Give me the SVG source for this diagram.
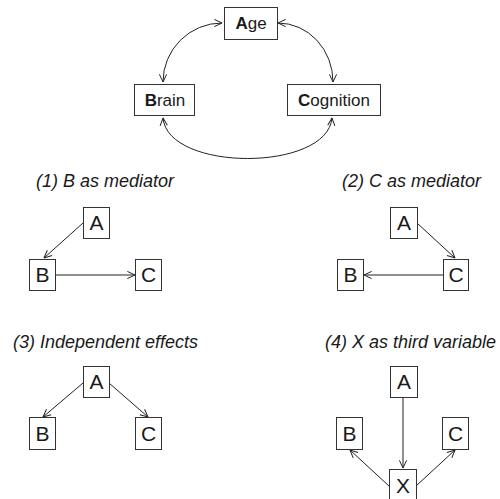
<svg xmlns="http://www.w3.org/2000/svg" width="500" height="499" viewBox="0 0 500 499">
<defs>
<marker id="ah" viewBox="0 0 10 10" refX="9.5" refY="5" markerWidth="9" markerHeight="9" markerUnits="userSpaceOnUse" orient="auto-start-reverse">
<path d="M1,1 L9.5,5 L1,9" fill="none" stroke="#222" stroke-width="1.1"/>
</marker>
<style>
.box{fill:#fff;stroke:#333;stroke-width:1}
.lbl{font-family:"Liberation Sans",Arial,sans-serif;fill:#1a1a1a}
.big{font-size:17px;text-anchor:middle}
.node{font-size:21px;text-anchor:middle}
.title{font-size:18px;font-style:italic}
.con{fill:none;stroke:#222;stroke-width:1}
</style>
</defs>
<rect width="500" height="499" fill="#fff"/>
<g id="connectors">
<path class="con" d="M222,23 A59,59 0 0 0 163,82" marker-start="url(#ah)" marker-end="url(#ah)"/>
<path class="con" d="M278,23 A55,59 0 0 1 333,82" marker-start="url(#ah)" marker-end="url(#ah)"/>
<path class="con" d="M163,118 C168,172 327,172 332,118" marker-start="url(#ah)" marker-end="url(#ah)"/>
<path class="con" d="M83,223 L44,258" marker-end="url(#ah)"/>
<path class="con" d="M55,275 L135,275" marker-end="url(#ah)"/>
<path class="con" d="M417,223 L455,258" marker-end="url(#ah)"/>
<path class="con" d="M443,275 L364,275" marker-end="url(#ah)"/>
<path class="con" d="M83,383 L43,417" marker-end="url(#ah)"/>
<path class="con" d="M109,383 L148,417" marker-end="url(#ah)"/>
<path class="con" d="M403,397 L403,468" marker-end="url(#ah)"/>
<path class="con" d="M389,486 L350,450" marker-end="url(#ah)"/>
<path class="con" d="M416,486 L455,450" marker-end="url(#ah)"/>
</g>
<g id="age"><rect class="box" x="224.5" y="7.5" width="53" height="32"/><text class="lbl big" x="251" y="29"><tspan font-weight="bold">A</tspan>ge</text></g>
<g id="brain"><rect class="box" x="134.5" y="84.5" width="60" height="31"/><text class="lbl big" x="165" y="105.5"><tspan font-weight="bold">B</tspan>rain</text></g>
<g id="cognition"><rect class="box" x="287.5" y="84.5" width="93" height="31"/><text class="lbl big" x="334" y="105.5"><tspan font-weight="bold">C</tspan>ognition</text></g>

<text class="lbl title" x="36" y="187">(1) B as mediator</text>
<g id="p1A"><rect class="box" x="83.5" y="207.5" width="26" height="31"/><text class="lbl node" x="96.5" y="230">A</text></g>
<g id="p1B"><rect class="box" x="29.5" y="259.5" width="26" height="31"/><text class="lbl node" x="42.5" y="282">B</text></g>
<g id="p1C"><rect class="box" x="135.5" y="259.5" width="26" height="31"/><text class="lbl node" x="148.5" y="282">C</text></g>

<text class="lbl title" x="342" y="187">(2) C as mediator</text>
<g id="p2A"><rect class="box" x="390.5" y="207.5" width="27" height="31"/><text class="lbl node" x="404" y="230">A</text></g>
<g id="p2B"><rect class="box" x="337.5" y="259.5" width="26" height="31"/><text class="lbl node" x="350.5" y="282">B</text></g>
<g id="p2C"><rect class="box" x="443.5" y="259.5" width="25" height="31"/><text class="lbl node" x="456" y="282">C</text></g>

<text class="lbl title" x="13" y="348">(3) Independent effects</text>
<g id="p3A"><rect class="box" x="83.5" y="366.5" width="26" height="31"/><text class="lbl node" x="96.5" y="389">A</text></g>
<g id="p3B"><rect class="box" x="29.5" y="417.5" width="26" height="32"/><text class="lbl node" x="42.5" y="440.5">B</text></g>
<g id="p3C"><rect class="box" x="135.5" y="417.5" width="26" height="32"/><text class="lbl node" x="148.5" y="440.5">C</text></g>

<text class="lbl title" x="325" y="348">(4) X as third variable</text>
<g id="p4A"><rect class="box" x="390.5" y="366.5" width="27" height="31"/><text class="lbl node" x="404" y="389">A</text></g>
<g id="p4B"><rect class="box" x="336.5" y="417.5" width="26" height="32"/><text class="lbl node" x="349.5" y="440.5">B</text></g>
<g id="p4C"><rect class="box" x="442.5" y="417.5" width="26" height="32"/><text class="lbl node" x="455.5" y="440.5">C</text></g>
<g id="p4X"><rect class="box" x="389.5" y="469.5" width="27" height="35"/><text class="lbl node" x="403" y="493">X</text></g>
</svg>
